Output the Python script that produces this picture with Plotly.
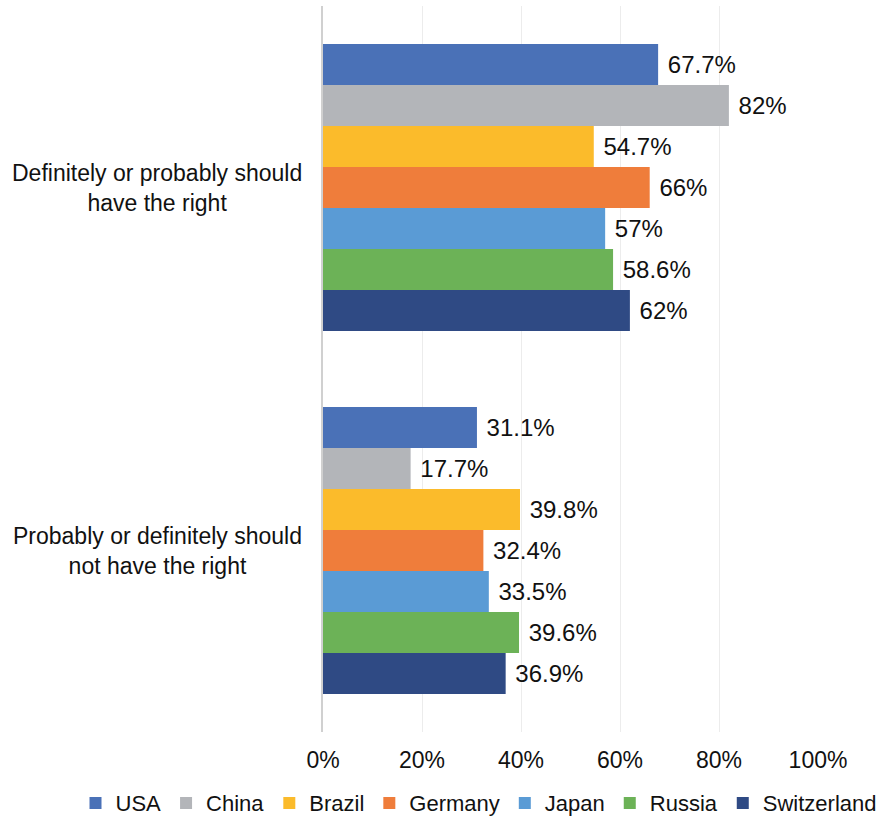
import plotly.graph_objects as go

categories = ["Definitely or probably should<br>have the right",
              "Probably or definitely should<br>not have the right"]
countries = ["USA", "China", "Brazil", "Germany", "Japan", "Russia", "Switzerland"]
values = {
    "USA": [67.7, 31.1],
    "China": [82, 17.7],
    "Brazil": [54.7, 39.8],
    "Germany": [66, 32.4],
    "Japan": [57, 33.5],
    "Russia": [58.6, 39.6],
    "Switzerland": [62, 36.9],
}
colors = ["#4a71b7", "#b3b5b9", "#fbbb2b", "#ef7d3b", "#5a9bd5", "#6cb257", "#2f4a84"]
tick_vals = [0, 20, 40, 60, 80, 100]
tick_text = ["0%", "20%", "40%", "60%", "80%", "100%"]

FONT = "Liberation Sans, Arial, sans-serif"
FS = 23

fig = go.Figure()
for c, col in zip(countries, colors):
    fig.add_trace(go.Bar(
        y=categories, x=values[c], name=c, orientation="h",
        marker=dict(color=col, line=dict(width=0)),
        texttemplate="\u00a0%{x}%", textposition="outside",
        constraintext="none", cliponaxis=False,
        textfont=dict(size=24, color="#111111", family=FONT),
    ))

for cat in categories:
    fig.add_annotation(x=0, y=cat, xref="paper", yref="y", text=cat,
                       xanchor="right", align="center", xshift=-19,
                       showarrow=False, font=dict(size=FS, color="#111111", family=FONT))

fig.update_layout(
    width=884, height=821,
    margin=dict(l=323, r=66, t=6, b=89, autoexpand=False),
    barmode="group", bargap=0.21, bargroupgap=0,
    plot_bgcolor="white", paper_bgcolor="white",
    font=dict(family=FONT, size=FS, color="#111111"),
    xaxis=dict(range=[0, 100], tickvals=tick_vals, ticktext=tick_text,
               showgrid=True, gridcolor="#ececec", gridwidth=1,
               zeroline=False, showline=False, ticks="",
               ticklabelstandoff=12,
               tickfont=dict(size=FS, color="#111111")),
    yaxis=dict(autorange="reversed", showticklabels=False, ticks="",
               showline=True, linecolor="#d0d0d0", linewidth=2, showgrid=False),
    legend=dict(orientation="h", x=-0.50, xanchor="left",
                y=-0.069, yanchor="top",
                font=dict(size=22, color="#111111"), itemwidth=30,
                traceorder="normal", tracegroupgap=0),
    showlegend=True,
)

fig.write_html("out.html")
